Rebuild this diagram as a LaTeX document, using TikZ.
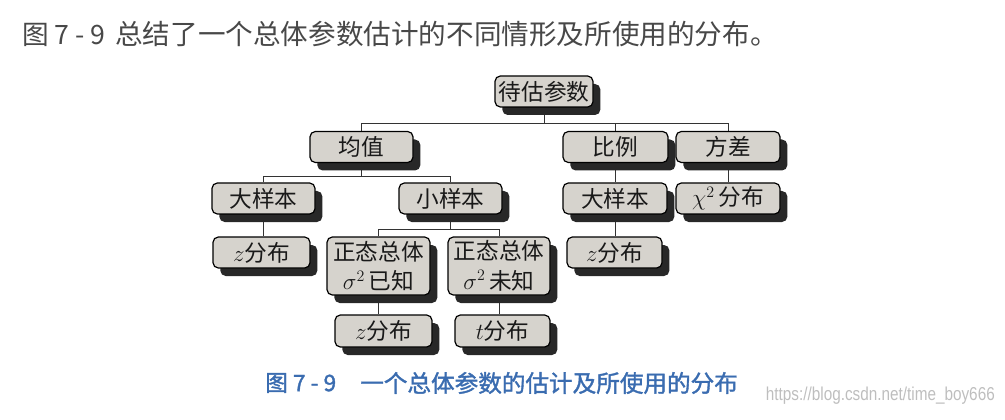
\documentclass[tikz,border=0pt]{standalone}
\usepackage{fontspec}
\setmainfont{Noto Sans CJK SC}
\newfontfamily\cjkbold[FakeBold=1.5]{Noto Sans CJK SC}
\newfontfamily\wmfont{Liberation Sans}
\usetikzlibrary{shadows,backgrounds}
\definecolor{facegray}{RGB}{214,211,205}
\definecolor{shadowgray}{RGB}{40,40,40}
\definecolor{headgray}{RGB}{72,72,72}
\definecolor{capblue}{RGB}{58,108,176}
\definecolor{wmgray}{RGB}{190,190,190}
\tikzset{
  box/.style={draw=black, line width=0.9pt, fill=facegray, rounded corners=4pt,
    minimum width=77.25pt, minimum height=23.25pt, inner sep=0pt, align=center,
    font=\fontsize{17}{22}\selectfont, text=black!90,
    drop shadow={shadow xshift=5.5pt, shadow yshift=-6pt, opacity=1, fill=shadowgray}},
  conn/.style={draw=black!80, line width=0.7pt}
}
\begin{document}
\begin{tikzpicture}[x=0.75pt,y=-0.75pt]
\useasboundingbox (0,0) rectangle (1005,420);
% header
\node[anchor=west, inner sep=0pt, text=headgray, font=\fontsize{20}{24}\selectfont] (h1) at (22,34.5) {图 7 - 9};
\node[anchor=west, inner sep=0pt, text=headgray, font=\fontsize{20.7}{24}\selectfont] (h2) at (115,34.5) {总结了一个总体参数估计的不同情形及所使用的分布。};
% boxes
\node[box, minimum width=73.5pt] (root) at (544,91.5) {待估参数};
\node[box] (mean) at (361.5,147) {均值};
\node[box, minimum width=78.75pt] (prop) at (615.5,147) {比例};
\node[box, minimum width=78pt] (var) at (728,147) {方差};
\node[box] (bigL) at (263.5,198.5) {大样本};
\node[box] (small) at (450.5,198.5) {小样本};
\node[box, minimum width=78pt] (bigR) at (615,198.5) {大样本};
\node[box, minimum width=78pt] (chi) at (728,198.5) {$\chi^2$\,分布};
\node[box, minimum width=72.75pt] (zL) at (261.5,252.5) {$z$分布};
\node[box, minimum width=71.25pt] (zR) at (614.5,252.5) {$z$分布};
\node[box, minimum height=43.5pt] (nk) at (378.5,266) {正态总体\\$\sigma^2$\,已知};
\node[box, minimum width=76.5pt, minimum height=43.5pt] (nu) at (499,266) {正态总体\\$\sigma^2$\,未知};
\node[box, minimum width=72.75pt, minimum height=24pt] (zB) at (383.5,331) {$z$分布};
\node[box, minimum width=71.25pt, minimum height=24pt] (tB) at (502.5,331) {$t$分布};
% bus points
\coordinate (b0) at (544,123);
\coordinate (b1) at (361.5,176);
\coordinate (b2) at (450.5,229);
\begin{scope}[on background layer]
\draw[conn] (root.south) -- (b0);
\draw[conn] (mean.north) |- (b0);
\draw[conn] (prop.north) |- (b0);
\draw[conn] (var.north) |- (b0);
\draw[conn] (mean.south) -- (b1);
\draw[conn] (bigL.north) |- (b1);
\draw[conn] (small.north) |- (b1);
\draw[conn] (small.south) -- (b2);
\draw[conn] (nk.north) |- (b2);
\draw[conn] (nu.north) |- (b2);
\draw[conn] (bigL.south) -- (bigL.south|-zL.north);
\draw[conn] (prop.south) -- (prop.south|-bigR.north);
\draw[conn] (bigR.south) -- (bigR.south|-zR.north);
\draw[conn] (var.south) -- (var.south|-chi.north);
\draw[conn] (nk.south) -- (nk.south|-zB.north);
\draw[conn] (nu.south) -- (nu.south|-tB.north);
\end{scope}
% caption
\node[anchor=west, inner sep=0pt, text=capblue, font=\cjkbold\fontsize{17}{20}\selectfont] (c1) at (265,383) {图 7 - 9};
\node[anchor=west, inner sep=0pt, text=capblue, font=\cjkbold\fontsize{17.7}{20}\selectfont] (c2) at (360,383) {一个总体参数的估计及所使用的分布};
% watermark
\node[anchor=east, inner sep=0pt, text=wmgray, font=\wmfont\fontsize{14}{16}\selectfont, xscale=0.82] (wm) at (995,396) {https://blog.csdn.net/time\_boy666};
\end{tikzpicture}
\end{document}
